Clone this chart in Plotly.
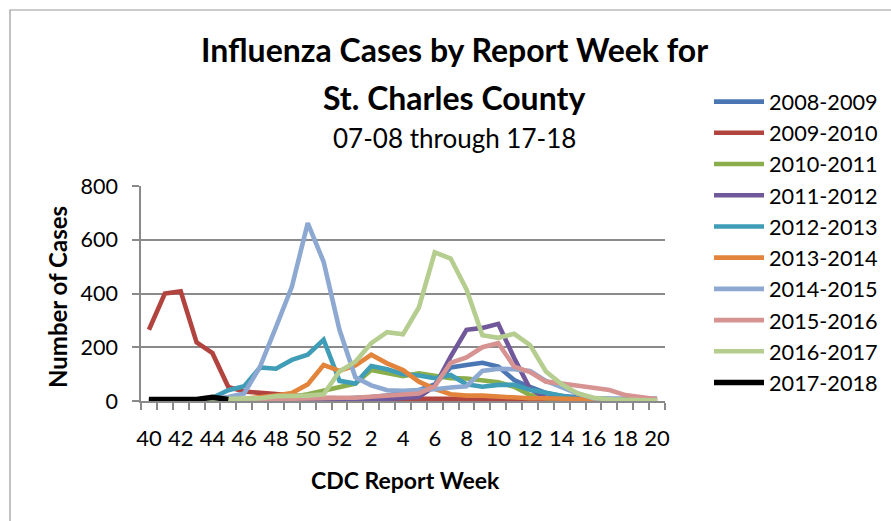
import plotly.graph_objects as go

weeks = [40, 41, 42, 43, 44, 45, 46, 47, 48, 49, 50, 51, 52,
         1, 2, 3, 4, 5, 6, 7, 8, 9, 10, 11, 12, 13, 14, 15, 16, 17, 18, 19, 20]

s0809 = [3, 3, 3, 3, 3, 4, 4, 5, 5, 5, 6, 6, 8,
         10, 15, 20, 28, 40, 62, 125, 134, 142, 128, 78, 52, 30, 18, 12, 10, 8, 8, 8, 8]
s0910 = [265, 400, 408, 218, 178, 52, 35, 30, 25, 20, 15, 12, 10,
         8, 8, 8, 8, 8, 8, 10, 12, 10, 8, 6, 5, 5, 5, 5, 5, 4, 3, 3, 3]
s1011 = [2, 2, 3, 3, 4, 5, 6, 8, 10, 15, 25, 38, 48,
         65, 115, 103, 92, 103, 92, 85, 84, 75, 70, 53, 22, 10, 6, 4, 3, 2, 2, 1, 1]
s1112 = [1, 1, 1, 1, 2, 2, 2, 2, 3, 3, 3, 3, 4,
         5, 5, 8, 10, 15, 55, 165, 265, 272, 287, 160, 45, 12, 8, 5, 4, 3, 3, 2, 2]
s1213 = [3, 3, 3, 4, 12, 40, 55, 125, 120, 153, 172, 228, 75,
         65, 130, 118, 100, 95, 85, 97, 62, 53, 60, 60, 42, 32, 18, 8, 5, 3, 2, 2, 1]
s1314 = [1, 1, 1, 2, 3, 5, 8, 12, 20, 30, 62, 134, 112,
         132, 172, 140, 115, 72, 45, 25, 20, 20, 16, 10, 10, 10, 8, 8, 6, 4, 3, 2, 2]
s1415 = [2, 2, 3, 4, 8, 15, 28, 128, 275, 425, 662, 518, 265,
         88, 58, 40, 38, 40, 44, 50, 55, 112, 120, 118, 112, 75, 52, 28, 10, 6, 4, 3, 2]
s1516 = [1, 1, 2, 2, 3, 4, 5, 6, 8, 8, 10, 10, 12,
         12, 15, 18, 22, 28, 55, 142, 162, 200, 215, 128, 108, 72, 65, 58, 48, 41, 22, 14, 6]
s1617 = [2, 2, 3, 4, 6, 8, 8, 10, 18, 18, 20, 25, 110,
         146, 215, 256, 248, 348, 553, 530, 415, 245, 235, 250, 208, 110, 62, 28, 12, 6, 4, 3, 2]
s1718 = [6, 6, 6, 6, 14, 6]

series_names = ["2008-2009", "2009-2010", "2010-2011", "2011-2012", "2012-2013",
                "2013-2014", "2014-2015", "2015-2016", "2016-2017", "2017-2018"]
series_values = [s0809, s0910, s1011, s1112, s1213, s1314, s1415, s1516, s1617, s1718]
colors = ["#4A77B4", "#B1443F", "#8BAE4C", "#71589A", "#3F9DB7",
          "#E2843B", "#8EA9D1", "#D69392", "#B5CD8F", "#000000"]

FONT = "Lato"
L, R, T, B = 141, 665, 186, 401
W, H = 891, 521


def px(x):
    return (x - L) / (R - L)


def py(y):
    return (B - y) / (B - T)


xs = list(range(len(weeks)))

fig = go.Figure()
for name, vals, col in zip(series_names, series_values, colors):
    fig.add_trace(go.Scatter(
        x=xs[:len(vals)], y=vals, mode="lines", name=name,
        legendgroup=name,
        line=dict(color=col, width=5.5 if col == "#000000" else 4.6),
    ))

fig.update_layout(
    width=W, height=H,
    margin=dict(l=L, r=W - R, t=T, b=H - B),
    paper_bgcolor="white", plot_bgcolor="white",
    font=dict(family=FONT, color="black", size=20),
    showlegend=True,
    legend=dict(
        x=709 / W, y=1 - 81 / H, xref="container", yref="container",
        xanchor="left", yanchor="top",
        font=dict(family=FONT, size=21.7, color="black"),
        tracegroupgap=0, bgcolor="rgba(0,0,0,0)", itemwidth=50,
        maxheight=1,
    ),
    xaxis=dict(
        range=[-0.5, len(weeks) - 0.5],
        tickmode="array", tickvals=xs[::2], ticktext=[str(w) for w in weeks[::2]],
        ticks="", showgrid=False, zeroline=False,
        showline=True, linecolor="#8a8a8a", linewidth=1.5,
        tickfont=dict(family=FONT, size=22),
        ticklabelstandoff=17,
        minor=dict(tickmode="array", tickvals=[i - 0.5 for i in range(len(weeks) + 1)],
                   ticks="outside", ticklen=7, tickcolor="#8a8a8a", tickwidth=1.5,
                   showgrid=False),
    ),
    yaxis=dict(
        range=[0, 800], tickmode="linear", tick0=0, dtick=200,
        showgrid=True, gridcolor="#8a8a8a", gridwidth=2,
        zeroline=False, showline=True, linecolor="#8a8a8a", linewidth=1.5,
        ticks="outside", ticklen=7, tickcolor="#8a8a8a", tickwidth=1.5,
        tickfont=dict(family=FONT, size=21.5),
        ticklabelstandoff=10,
    ),
    shapes=[dict(type="rect", xref="paper", yref="paper",
                 x0=px(10), y0=py(530), x1=px(900), y1=py(10),
                 line=dict(color="#9a9a9a", width=1.2), fillcolor="rgba(0,0,0,0)",
                 layer="below")],
    annotations=[
        dict(text="<b>Influenza Cases by Report Week for</b>", x=px(454), y=py(50),
             xref="paper", yref="paper", showarrow=False, xanchor="center", yanchor="middle",
             font=dict(family=FONT, size=32, color="black")),
        dict(text="<b>St. Charles County</b>", x=px(454), y=py(97),
             xref="paper", yref="paper", showarrow=False, xanchor="center", yanchor="middle",
             font=dict(family=FONT, size=32, color="black")),
        dict(text="07-08 through 17-18", x=px(454), y=py(138),
             xref="paper", yref="paper", showarrow=False, xanchor="center", yanchor="middle",
             font=dict(family=FONT, size=26, color="black")),
        dict(text="<b>CDC Report Week</b>", x=px(405), y=py(480),
             xref="paper", yref="paper", showarrow=False, xanchor="center", yanchor="middle",
             font=dict(family=FONT, size=23, color="black")),
        dict(text="<b>Number of Cases</b>", x=px(57), y=py(297), textangle=-90,
             xref="paper", yref="paper", showarrow=False, xanchor="center", yanchor="middle",
             font=dict(family=FONT, size=24, color="black")),
    ],
)

fig.write_html("out.html", config={"displayModeBar": False},
               post_script="document.body.style.margin='0';document.body.style.overflow='hidden';")
